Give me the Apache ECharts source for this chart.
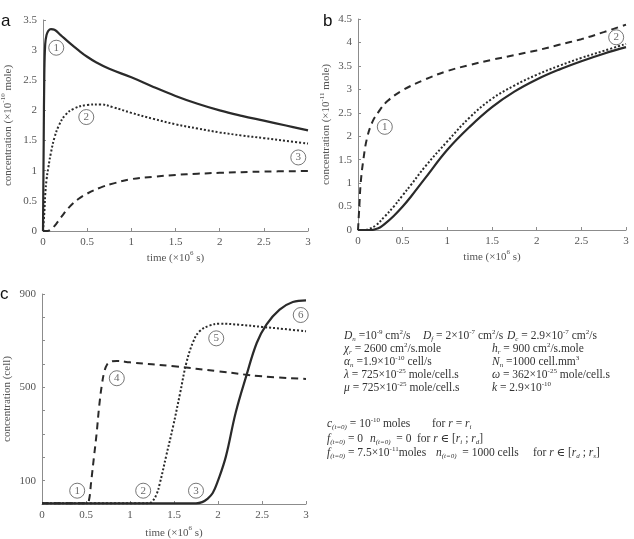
<!DOCTYPE html>
<html>
<head>
<meta charset="utf-8">
<title>concentration vs time</title>
<script src="https://cdn.jsdelivr.net/npm/echarts@6/dist/echarts.min.js"></script>
<style>
  html, body { margin: 0; padding: 0; background: #fff; }
  #chart { width: 634px; height: 539px; }
</style>
</head>
<body>
<div id="chart"></div>
<script>
// ---- panel a : concentration (x10^-10 mole) ----
const aSolidX = [0, 0.008, 0.015, 0.025, 0.04, 0.06, 0.09, 0.13, 0.2, 0.3, 0.4, 0.5, 0.6, 0.75, 1, 1.25, 1.5, 1.75, 2, 2.25, 2.5, 2.75, 3];
const aSolidY = [0, 1.5, 2.6, 3.1, 3.25, 3.32, 3.35, 3.34, 3.25, 3.12, 3.0, 2.89, 2.8, 2.69, 2.55, 2.39, 2.24, 2.11, 2.0, 1.91, 1.83, 1.75, 1.67];
const aDotX = [0, 0.015, 0.025, 0.04, 0.06, 0.09, 0.13, 0.18, 0.25, 0.35, 0.5, 0.65, 0.8, 1, 1.25, 1.5, 1.75, 2, 2.25, 2.5, 2.75, 3];
const aDotY = [0, 0.3, 0.6, 0.85, 1.05, 1.3, 1.55, 1.75, 1.92, 2.03, 2.09, 2.1, 2.05, 1.96, 1.86, 1.77, 1.7, 1.635, 1.585, 1.54, 1.495, 1.45];
const aDashX = [0, 0.05, 0.1, 0.15, 0.2, 0.3, 0.4, 0.5, 0.65, 0.8, 1, 1.25, 1.5, 1.75, 2, 2.5, 3];
const aDashY = [0, 0, 0.04, 0.12, 0.22, 0.4, 0.53, 0.62, 0.72, 0.79, 0.86, 0.9, 0.93, 0.95, 0.965, 0.985, 0.995];
const aNoteX = [0.15, 0.49, 2.89];
const aNoteY = [3.04, 1.89, 1.22];
const aNoteText = ['1', '2', '3'];

// ---- panel b : concentration (x10^-11 mole) ----
const bDashX = [0, 0.015, 0.03, 0.06, 0.1, 0.16, 0.23, 0.33, 0.5, 0.75, 1, 1.25, 1.5, 1.75, 2, 2.25, 2.5, 2.75, 3];
const bDashY = [0, 0.5, 1.0, 1.5, 1.95, 2.3, 2.52, 2.75, 2.98, 3.21, 3.39, 3.52, 3.63, 3.73, 3.83, 3.95, 4.07, 4.22, 4.38];
const bDotX = [0, 0.08, 0.12, 0.2, 0.3, 0.4, 0.5, 0.6, 0.75, 1, 1.25, 1.5, 1.75, 2, 2.25, 2.5, 2.75, 3];
const bDotY = [0, 0, 0.02, 0.1, 0.29, 0.5, 0.74, 0.98, 1.35, 1.89, 2.4, 2.8, 3.08, 3.31, 3.5, 3.67, 3.82, 3.97];
const bSolidX = [0, 0.15, 0.2, 0.25, 0.3, 0.4, 0.5, 0.6, 0.75, 1, 1.25, 1.5, 1.75, 2, 2.25, 2.5, 2.75, 3];
const bSolidY = [0, 0, 0.02, 0.06, 0.13, 0.3, 0.5, 0.73, 1.1, 1.71, 2.2, 2.62, 2.95, 3.21, 3.42, 3.6, 3.76, 3.9];
const bNoteX = [0.3, 2.89];
const bNoteY = [2.2, 4.11];
const bNoteText = ['1', '2'];

// ---- panel c : concentration (cell) ----
const cDashX = [0, 0.5, 0.53, 0.56, 0.59, 0.62, 0.65, 0.68, 0.71, 0.74, 0.78, 0.85, 1, 1.5, 2, 2.5, 3];
const cDashY = [3, 3, 10, 100, 200, 300, 420, 510, 570, 598, 610, 613, 607, 590, 569, 547, 536];
const cDotX = [0, 1.2, 1.25, 1.3, 1.34, 1.41, 1.49, 1.57, 1.64, 1.72, 1.79, 1.9, 2.02, 2.25, 2.5, 2.75, 3];
const cDotY = [3, 3, 10, 40, 90, 204, 333, 476, 604, 697, 740, 764, 773, 768, 759, 750, 740];
const cSolidX = [0, 1.75, 1.82, 1.88, 1.94, 2.0, 2.09, 2.2, 2.32, 2.44, 2.55, 2.7, 2.85, 3];
const cSolidY = [3, 3, 8, 22, 47, 100, 204, 390, 547, 690, 769, 833, 866, 873];
const cNoteX = [0.4, 1.15, 1.75, 0.85, 1.98, 2.94];
const cNoteY = [57, 57, 57, 539, 710, 810];
const cNoteText = ['1', '2', '3', '4', '5', '6'];
const cYLabels = [100, 500, 900];

const serif = '"Liberation Serif", "DejaVu Serif", serif';
const ink = '#2a2a2a';
const axisGray = '#8c8c8c';
const labelGray = '#555';

function pairs(xs, ys) {
  return xs.map((x, i) => [x, ys[i]]);
}

function curve(xs, ys, kind, idx) {
  const dash = { solid: 'solid', dashed: [7, 5], dotted: [2, 2] }[kind];
  return {
    type: 'line',
    xAxisIndex: idx,
    yAxisIndex: idx,
    data: pairs(xs, ys),
    showSymbol: false,
    smooth: 0.4,
    silent: true,
    lineStyle: { color: ink, width: kind === 'solid' ? 2.2 : 2, type: dash },
    z: 2,
  };
}

function badges(xs, ys, names, idx) {
  return {
    type: 'scatter',
    xAxisIndex: idx,
    yAxisIndex: idx,
    data: xs.map((x, i) => [x, ys[i], names[i]]),
    symbol: 'circle',
    symbolSize: 15,
    silent: true,
    itemStyle: { color: 'rgba(255,255,255,0)', borderColor: '#555', borderWidth: 1 },
    label: {
      show: true,
      position: 'inside',
      formatter: (p) => p.value[2],
      color: '#444',
      fontFamily: serif,
      fontSize: 11,
    },
    z: 5,
  };
}

const supRich = {
  sup: { fontFamily: serif, fontSize: 7, color: labelGray, verticalAlign: 'top' },
};

function xAxisFor(idx) {
  return {
    type: 'value',
    gridIndex: idx,
    min: 0,
    max: 3,
    interval: 0.5,
    name: 'time (×10{sup|6} s)',
    nameLocation: 'middle',
    nameGap: idx === 2 ? 21 : 19,
    nameTextStyle: { color: labelGray, fontFamily: serif, fontSize: 11, lineHeight: 16, rich: supRich },
    axisLine: { show: true, onZero: false, lineStyle: { color: axisGray } },
    axisTick: { show: true, inside: true, length: 3, lineStyle: { color: axisGray } },
    axisLabel: { color: labelGray, fontFamily: serif, fontSize: 11, margin: 6 },
    splitLine: { show: false },
  };
}

function yAxisFor(idx, max, name, gap, extra) {
  return Object.assign({
    type: 'value',
    gridIndex: idx,
    min: 0,
    max: max,
    interval: 0.5,
    name: name,
    nameLocation: 'middle',
    nameGap: gap,
    nameTextStyle: { color: labelGray, fontFamily: serif, fontSize: 11, lineHeight: 16, rich: supRich },
    axisLine: { show: true, onZero: false, lineStyle: { color: axisGray } },
    axisTick: { show: true, inside: true, length: 3, lineStyle: { color: axisGray } },
    axisLabel: { color: labelGray, fontFamily: serif, fontSize: 11, margin: 6 },
    splitLine: { show: false },
  }, extra || {});
}

// ---- parameter block, drawn as rich text ----
const F = '11.5px ' + serif;
const FI = 'italic 11.5px ' + serif;
const FS = '7px ' + serif;
const FSI = 'italic 7px ' + serif;
const rich = {
  i: { font: FI, fill: '#333', lineHeight: 14 },
  g: { font: FI, fill: '#333', lineHeight: 14 },
  ib: { font: FSI, fill: '#333', verticalAlign: 'bottom' },
  p: { font: FS, fill: '#333', verticalAlign: 'top' },
};

function txt(x, y, s) {
  return {
    type: 'text',
    x: x,
    y: y,
    silent: true,
    style: { text: s, font: F, fill: '#333', lineHeight: 14, rich: rich, verticalAlign: 'middle' },
  };
}

function panelLabel(x, y, s) {
  return {
    type: 'text',
    x: x,
    y: y,
    silent: true,
    style: { text: s, font: '17px "Liberation Sans", Arial, sans-serif', fill: '#111', verticalAlign: 'alphabetic' },
  };
}

const notes = [
  txt(344, 336, '{i|D}{ib|n} =10{p|-9} cm{p|2}/s'),
  txt(423, 336, '{i|D}{ib|f} = 2×10{p|-7} cm{p|2}/s'),
  txt(507, 336, '{i|D}{ib|c} = 2.9×10{p|-7} cm{p|2}/s'),
  txt(344, 349, '{g|χ}{ib|r} = 2600 cm{p|2}/s.mole'),
  txt(492, 349, '{i|h}{ib|r} = 900 cm{p|2}/s.mole'),
  txt(344, 362, '{g|α}{ib|n} =1.9×10{p|-10} cell/s'),
  txt(492, 362, '{i|N}{ib|n} =1000 cell.mm{p|3}'),
  txt(344, 374.5, '{g|λ} = 725×10{p|-25} mole/cell.s'),
  txt(492, 374.5, '{g|ω} = 362×10{p|-25} mole/cell.s'),
  txt(344, 387.5, '{g|μ} = 725×10{p|-25} mole/cell.s'),
  txt(492, 387.5, '{i|k} = 2.9×10{p|-10}'),
  txt(327, 423.5, '{i|c}{ib|(t=0)} = 10{p|-10} moles'),
  txt(432, 423.5, 'for {i|r} = {i|r}{ib|i}'),
  txt(327, 439, '{i|f}{ib|(t=0)} = 0'),
  txt(370, 439, '{i|n}{ib|(t=0)}  = 0'),
  txt(417, 439, 'for {i|r} ∈ [{i|r}{ib|i} ; {i|r}{ib|d}]'),
  txt(327, 453, '{i|f}{ib|(t=0)} = 7.5×10{p|-11}moles'),
  txt(436, 453, '{i|n}{ib|(t=0)}  = 1000 cells'),
  txt(533, 453, 'for {i|r} ∈ [{i|r}{ib|d} ; {i|r}{ib|s}]'),
  panelLabel(1, 13, 'a'),
  panelLabel(323, 13, 'b'),
  panelLabel(0, 286, 'c'),
];

const chart = echarts.init(document.getElementById('chart'));
chart.setOption({
  animation: false,
  backgroundColor: '#fff',
  textStyle: { fontFamily: serif },
  grid: [
    { left: 43, top: 20, width: 265, height: 211, outerBoundsMode: 'none' },
    { left: 358, top: 19, width: 268, height: 211, outerBoundsMode: 'none' },
    { left: 42, top: 294, width: 264, height: 210, outerBoundsMode: 'none' },
  ],
  xAxis: [xAxisFor(0), xAxisFor(1), xAxisFor(2)],
  yAxis: [
    yAxisFor(0, 3.5, 'concentration (×10{sup|-10} mole)', 27),
    yAxisFor(1, 4.5, 'concentration (×10{sup|-11} mole)', 22),
    yAxisFor(2, 900, 'concentration (cell)', 26, {
      interval: 100,
      axisLabel: {
        color: labelGray,
        fontFamily: serif,
        fontSize: 11,
        margin: 6,
        formatter: (v) => (cYLabels.indexOf(v) >= 0 ? String(v) : ''),
      },
    }),
  ],
  graphic: notes,
  series: [
    curve(aSolidX, aSolidY, 'solid', 0),
    curve(aDotX, aDotY, 'dotted', 0),
    curve(aDashX, aDashY, 'dashed', 0),
    badges(aNoteX, aNoteY, aNoteText, 0),
    curve(bDashX, bDashY, 'dashed', 1),
    curve(bDotX, bDotY, 'dotted', 1),
    curve(bSolidX, bSolidY, 'solid', 1),
    badges(bNoteX, bNoteY, bNoteText, 1),
    curve(cDashX, cDashY, 'dashed', 2),
    curve(cDotX, cDotY, 'dotted', 2),
    curve(cSolidX, cSolidY, 'solid', 2),
    badges(cNoteX, cNoteY, cNoteText, 2),
  ],
});
</script>
</body>
</html>
